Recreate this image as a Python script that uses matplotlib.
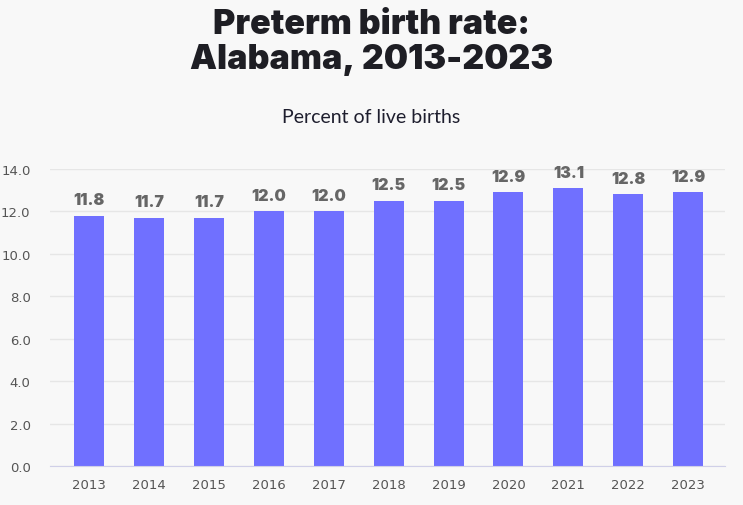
import matplotlib.pyplot as plt

years = ['2013', '2014', '2015', '2016', '2017', '2018', '2019', '2020', '2021', '2022', '2023']
rates = [11.8, 11.7, 11.7, 12.0, 12.0, 12.5, 12.5, 12.9, 13.1, 12.8, 12.9]
yticks = [0, 2, 4, 6, 8, 10, 12, 14]

bg = '#f8f8f8'
fig = plt.figure(figsize=(7.43, 5.06), dpi=100, facecolor=bg)
ax = fig.add_axes([0.0673, 0.0771, 0.909, 0.587], facecolor=bg)

x = range(len(years))
bars = ax.bar(x, rates, width=0.5, color='#7070ff', zorder=3)
for xi, r in zip(x, rates):
    ax.annotate(f'{r:.1f}', (xi, r), xytext=(0, 6), textcoords='offset points',
                ha='center', va='bottom', fontsize=11.5, fontweight='black',
                color='#666666', family=['Inter', 'DejaVu Sans'])

ax.set_xlim(-0.65, 10.62)
ax.set_ylim(0, 14)
ax.set_yticks(yticks)
ax.set_yticklabels([f'{t:.1f}' for t in yticks])
ax.set_xticks(list(x))
ax.set_xticklabels(years)
ax.yaxis.grid(True, color='#e6e6e6', linewidth=1, zorder=0)
ax.tick_params(axis='both', length=0, labelsize=9.5, labelcolor='#555555')
ax.tick_params(axis='x', pad=9)
ax.tick_params(axis='y', pad=14)
for s in ['top', 'right', 'left']:
    ax.spines[s].set_visible(False)
ax.spines['bottom'].set_color('#d0d0e8')
ax.spines['bottom'].set_zorder(4)

fig.text(0.5, 0.916, 'Preterm birth rate:\nAlabama, 2013-2023', ha='center', va='center',
         fontsize=24.5, fontweight='black', color='#1e1e24',
         family=['Inter', 'DejaVu Sans'], linespacing=1.12)
fig.text(0.5, 0.767, 'Percent of live births', ha='center', va='center',
         fontsize=14, color='#1e1e2e', family='Lato')

fig.savefig('out.png', dpi=100, facecolor=bg)
